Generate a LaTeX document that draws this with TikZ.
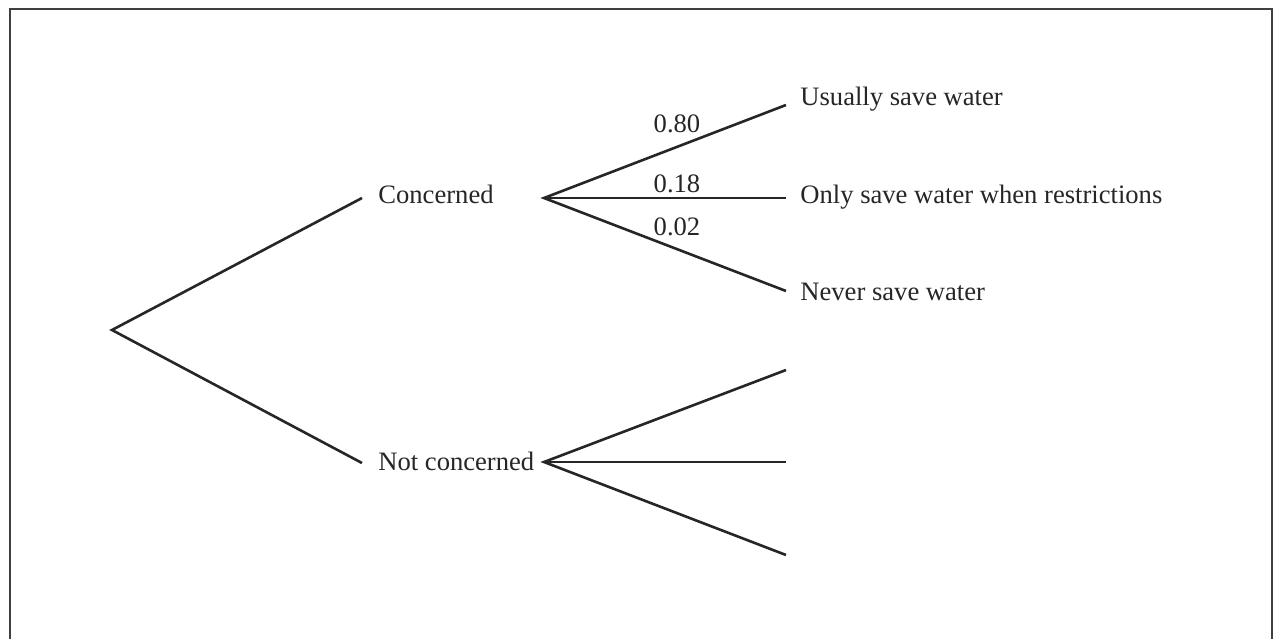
\documentclass[tikz,border=0pt]{standalone}
\usepackage{fontspec}
\setmainfont{Liberation Serif}
\begin{document}
\begin{tikzpicture}[x=0.5pt,y=-0.5pt,
  branch/.style={line width=1.3pt,black!85},
  lbl/.style={anchor=base west,inner sep=0pt,font=\fontsize{13.3}{16}\selectfont,text=black!85},
  prob/.style={anchor=base,inner sep=0pt,font=\fontsize{13.3}{16}\selectfont,text=black!85},
  frame/.style={line width=1pt,black!75}]
\useasboundingbox (0,0) rectangle (1274,638);
\fill[white] (0,0) rectangle (1274,638);
\draw[frame] (9.5,645) -- (9.5,9) -- (1272,9) -- (1272,645);
% coordinates
\coordinate (root) at (112,330);
\coordinate (c1) at (362,198);
\coordinate (n1) at (362,463);
\coordinate (c2) at (544,198);
\coordinate (n2) at (544,462);
\coordinate (cu) at (786,105);
\coordinate (cm) at (786,198);
\coordinate (cl) at (786,291);
\coordinate (nu) at (786,370);
\coordinate (nm) at (786,462);
\coordinate (nl) at (786,555);
% labels
\node[lbl] (conc) at (378,203) {Concerned};
\node[lbl] (notc) at (378,470) {Not concerned};
\node[lbl] (usu) at (800,105) {Usually save water};
\node[lbl] (only) at (800,203) {Only save water when restrictions};
\node[lbl] (nev) at (800,300) {Never save water};
\node[prob] (p80) at (677,132) {0.80};
\node[prob] (p18) at (677,192) {0.18};
\node[prob] (p02) at (677,235) {0.02};
% branches
\draw[branch] (c1) -- (root) -- (n1);
\draw[branch] (cu) -- (c2) -- (cl);
\draw[branch] (c2) -- (cm);
\draw[branch] (nu) -- (n2) -- (nl);
\draw[branch] (n2) -- (nm);
\end{tikzpicture}
\end{document}
